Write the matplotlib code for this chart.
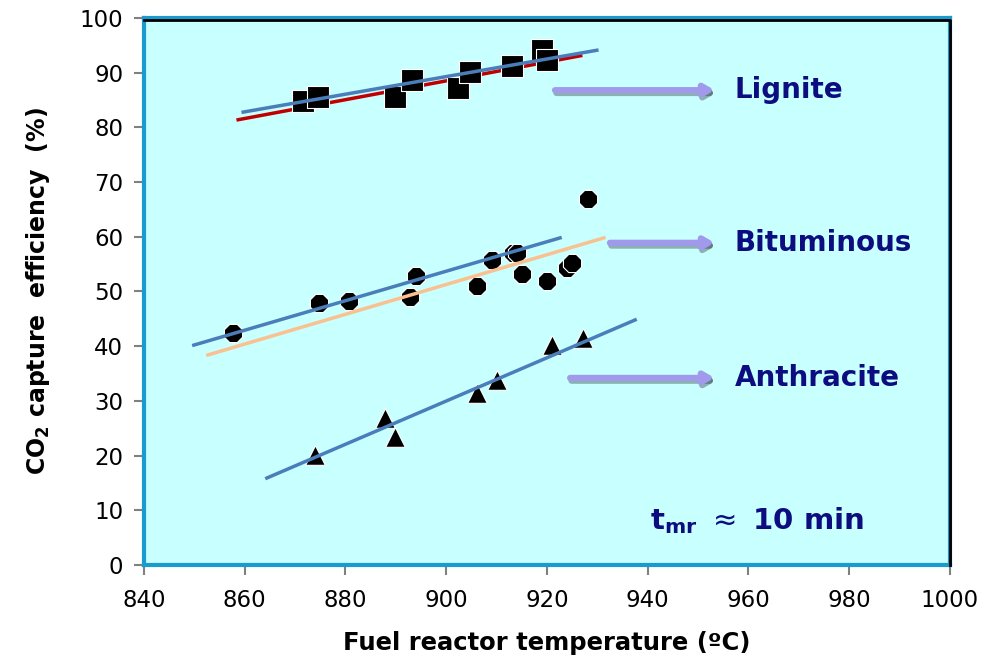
import matplotlib.pyplot as plt
import matplotlib.patheffects as pe

# lignite (squares)
lig_T = [871.6, 874.5, 889.8, 893.2, 902.3, 904.7, 913.1, 919.0, 920.0]
lig_eff = [84.8, 85.6, 85.6, 88.7, 87.2, 90.1, 91.2, 94.1, 92.3]
# bituminous (circles)
bit_T = [857.7, 874.7, 880.7, 892.8, 894.0, 906.1, 909.1, 913.3, 914.0, 915.0, 920.0, 924.0, 925.0, 928.1]
bit_eff = [42.4, 47.9, 48.3, 49.0, 52.8, 51.0, 55.8, 57.0, 57.0, 53.2, 51.9, 54.3, 55.2, 66.9]
# anthracite (triangles)
ant_T = [874.0, 887.8, 889.8, 906.1, 910.1, 921.0, 927.1]
ant_eff = [20.1, 26.9, 23.4, 31.4, 33.8, 40.2, 41.5]

# trend lines (end points)
lig_fit1_T, lig_fit1_y = [859.7, 929.9], [82.8, 94.1]
lig_fit2_T, lig_fit2_y = [858.7, 926.7], [81.4, 93.1]
bit_fit1_T, bit_fit1_y = [849.9, 922.6], [40.2, 59.8]
bit_fit2_T, bit_fit2_y = [852.7, 931.3], [38.4, 59.8]
ant_fit_T, ant_fit_y = [864.4, 937.5], [15.9, 44.8]

labels = ['Lignite', 'Bituminous', 'Anthracite']
label_y = [86.8, 58.9, 34.2]
arrow_start = [921.6, 932.5, 924.6]

xticks = list(range(840, 1001, 20))
yticks = list(range(0, 101, 10))

navy = '#0d0d80'
fig = plt.figure(figsize=(9.84, 6.64), dpi=100)
ax = fig.add_axes([0.1463, 0.1491, 0.8191, 0.8238])
ax.set_facecolor('#c8ffff')

ax.plot(lig_fit1_T, lig_fit1_y, color='#4a7ebb', lw=2.5, zorder=3)
ax.plot(lig_fit2_T, lig_fit2_y, color='#c00000', lw=2.5, zorder=2)
ax.plot(bit_fit1_T, bit_fit1_y, color='#4a7ebb', lw=2.5, zorder=3)
ax.plot(bit_fit2_T, bit_fit2_y, color='#fac090', lw=2.5, zorder=3)
ax.plot(ant_fit_T, ant_fit_y, color='#4a7ebb', lw=2.5, zorder=3)

ax.scatter(lig_T, lig_eff, marker='s', s=230, color='black', edgecolor='white', linewidth=0.8, zorder=2.5)
ax.scatter(bit_T, bit_eff, marker='8', s=200, color='black', edgecolor='white', linewidth=0.8, zorder=2.5)
ax.scatter(ant_T, ant_eff, marker='^', s=200, color='black', edgecolor='white', linewidth=0.8, zorder=2.5)

for lab, yy, x0 in zip(labels, label_y, arrow_start):
    ax.annotate('', xy=(953.3, yy), xytext=(x0, yy),
                arrowprops=dict(arrowstyle='-|>,head_width=0.32,head_length=0.55',
                                lw=4.5, color='#a099ec', shrinkA=0, shrinkB=0,
                                path_effects=[pe.SimpleLineShadow(offset=(1, -2), alpha=0.3), pe.Normal()]),
                zorder=4)
    ax.text(957.3, yy, lab, color=navy, fontsize=20, fontweight='bold', va='center', ha='left', zorder=5)

ax.text(940.4, 8.2, r'$\mathbf{t_{mr}}$ $\approx$ 10 min', color=navy, fontsize=21,
        fontweight='bold', va='center', ha='left', zorder=5)

ax.set_xlim(840, 1000)
ax.set_ylim(0, 100)
ax.set_xticks(xticks)
ax.set_yticks(yticks)
ax.tick_params(axis='both', direction='out', length=7, width=1.5, color='#808080', labelsize=16.5)
ax.tick_params(axis='y', pad=8)
ax.tick_params(axis='x', pad=10)

for side in ['left', 'bottom', 'top', 'right']:
    ax.spines[side].set_color('#1a9bd0')
    ax.spines[side].set_linewidth(3)
# dark shadow on the top and right edges of the frame
ax.plot([0, 1, 1], [0.997, 0.997, 0], transform=ax.transAxes, color='black', lw=2, clip_on=False, zorder=6)

ax.set_xlabel('Fuel reactor temperature (ºC)', fontsize=17.5, fontweight='bold', labelpad=14)
ax.set_ylabel(r'CO$_\mathbf{2}$ capture  efficiency  (%)', fontsize=17, fontweight='bold', labelpad=20)

fig.savefig('out.png', dpi=100)
